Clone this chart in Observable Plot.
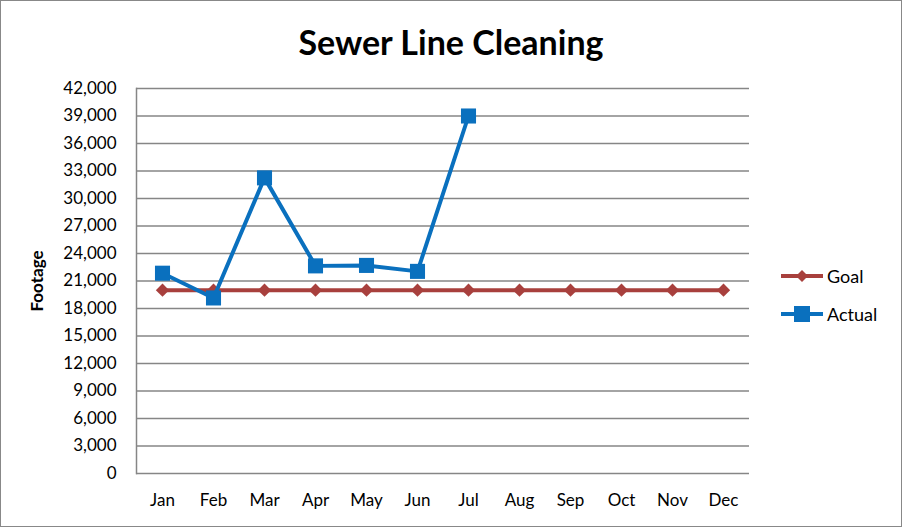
<!DOCTYPE html>
<html><head><meta charset="utf-8">
<script src="https://cdn.jsdelivr.net/npm/d3@7"></script>
<script src="https://cdn.jsdelivr.net/npm/@observablehq/plot@0.6"></script>
<style>
html,body{margin:0;padding:0;background:#fff;}
#wrap{position:relative;width:900px;height:525px;border:1px solid #888;font-family:Lato,"Open Sans",sans-serif;background:#fff;overflow:hidden;}
#title{height:70px;line-height:82px;text-align:center;font-size:34px;font-weight:bold;color:#000;}
#legend{position:absolute;left:778px;top:256px;font-size:18px;color:#000;}
.item{display:flex;align-items:center;height:38px;}
.item svg{margin-right:2px;}
svg{display:block;}
</style></head>
<body><div id="wrap"><div id="title">Sewer Line Cleaning</div><div id="chart"></div><div id="legend"></div></div>
<script>
const months = ["Jan","Feb","Mar","Apr","May","Jun","Jul","Aug","Sep","Oct","Nov","Dec"];
const actual = [21850, 19150, 32250, 22650, 22700, 22050, 39000];
const goal = [20000,20000,20000,20000,20000,20000,20000,20000,20000,20000,20000,20000];
const yTicks = d3.range(0, 42001, 3000);

const goalColor = "#A8403D";
const actualColor = "#0A70BE";

const goalData = months.map((m,i)=>({month:m, value:goal[i]}));
const actualData = actual.map((v,i)=>({month:months[i], value:v}));

const chart = Plot.plot({
  width: 900,
  height: 455,
  marginLeft: 135,
  marginRight: 152,
  marginTop: 17,
  marginBottom: 53,
  style: {fontFamily: "Lato, 'Open Sans', sans-serif", fontSize: "17px", color: "#000", background: "#fff"},
  x: {type: "point", domain: months, padding: 0.5, label: null},
  y: {domain: [0, 42000], label: null},
  marks: [
    Plot.gridY(yTicks, {stroke: "#868686", strokeOpacity: 1, strokeWidth: 1.5}),
    Plot.frame({anchor: "left", stroke: "#868686", strokeWidth: 1.5}),
    Plot.axisY({ticks: yTicks, tickSize: 0, tickPadding: 20, tickFormat: d3.format(","), fontSize: 17}),
    Plot.axisX({tickSize: 0, tickPadding: 20, fontSize: 17}),
    Plot.text(["Footage"], {frameAnchor: "left", textAnchor: "middle", dx: -99, rotate: -90, fontWeight: "bold", fontSize: 17}),
    Plot.line(goalData, {x: "month", y: "value", stroke: goalColor, strokeWidth: 4}),
    Plot.dot(goalData, {x: "month", y: "value", symbol: "diamond2", r: 6, fill: goalColor, stroke: "none"}),
    Plot.line(actualData, {x: "month", y: "value", stroke: actualColor, strokeWidth: 4}),
    Plot.dot(actualData, {x: "month", y: "value", symbol: "square", r: 8.5, fill: actualColor, stroke: "none"})
  ]
});
document.getElementById("chart").appendChild(chart);

function legendItem(label, color, shape) {
  const div = document.createElement("div");
  div.className = "item";
  const ns = "http://www.w3.org/2000/svg";
  const s = document.createElementNS(ns, "svg");
  s.setAttribute("width", 46); s.setAttribute("height", 20);
  const l = document.createElementNS(ns, "line");
  l.setAttribute("x1", 2); l.setAttribute("x2", 44); l.setAttribute("y1", 10); l.setAttribute("y2", 10);
  l.setAttribute("stroke", color); l.setAttribute("stroke-width", 4);
  s.appendChild(l);
  const p = document.createElementNS(ns, "path");
  p.setAttribute("d", shape === "square" ? "M15,2H31V18H15Z" : "M23,4L29,10L23,16L17,10Z");
  p.setAttribute("fill", color);
  s.appendChild(p);
  div.appendChild(s);
  const t = document.createElement("span"); t.textContent = label;
  div.appendChild(t);
  return div;
}
const lg = document.getElementById("legend");
lg.appendChild(legendItem("Goal", goalColor, "diamond"));
lg.appendChild(legendItem("Actual", actualColor, "square"));
</script></body></html>
